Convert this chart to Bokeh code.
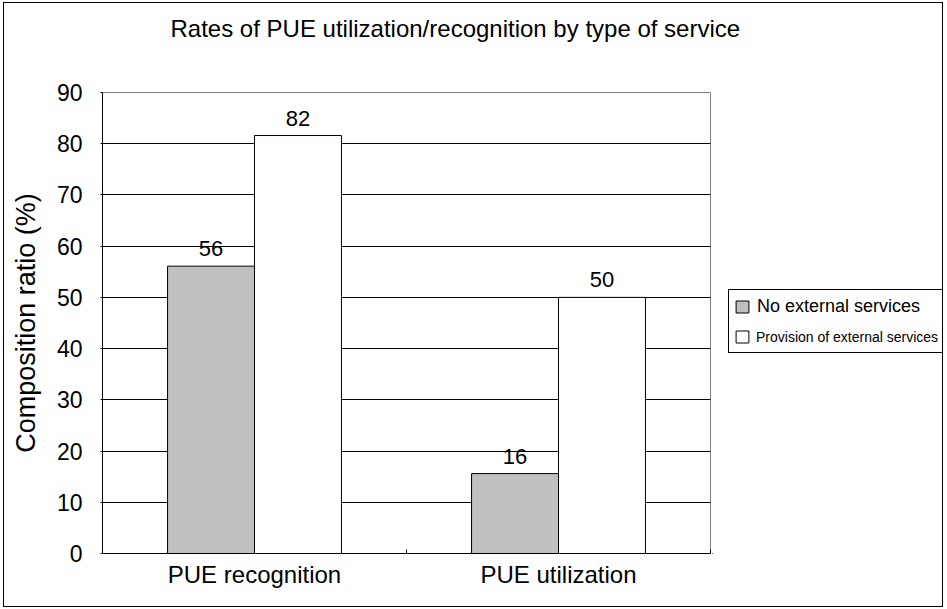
from bokeh.plotting import figure
from bokeh.layouts import column, row
from bokeh.models import (Range1d, FixedTicker, ColumnDataSource, LabelSet, Label,
                          Legend, LegendItem)
from bokeh.core.properties import value
from bokeh.embed import file_html
from bokeh.resources import INLINE

# ---------------- data ----------------
title_text = "Rates of PUE utilization/recognition by type of service"
categories = ["PUE recognition", "PUE utilization"]
series_names = ["No external services", "Provision of external services"]
no_external = [56.1, 15.6]
provision = [81.6, 50.0]
y_ticks = [0, 10, 20, 30, 40, 50, 60, 70, 80, 90]
y_label = "Composition ratio (%)"

FONT = "Liberation Sans"
GRAY = "#C0C0C0"
TOTAL_W, TOTAL_H = 940, 605
TITLE_H = 50
MAIN_W = 99 + 608 + 2
LEG_W = TOTAL_W - MAIN_W
BODY_H = TOTAL_H - TITLE_H

# ---------------- title strip ----------------
p_title = figure(width=TOTAL_W, height=TITLE_H, output_backend="svg", toolbar_location=None,
                 x_range=Range1d(0, 1), y_range=Range1d(0, 1),
                 x_axis_location=None, y_axis_location=None, min_border=0)
p_title.grid.visible = False
p_title.outline_line_color = None
p_title.background_fill_alpha = 0
p_title.border_fill_alpha = 0
p_title.add_layout(Label(x=167, y=24, x_units="screen", y_units="screen", text=title_text,
                         text_font=FONT, text_font_size="24px", text_color="black",
                         text_baseline="alphabetic", text_align="left"))

# ---------------- main chart ----------------
p = figure(frame_width=608, frame_height=461, output_backend="svg", toolbar_location=None,
           x_range=Range1d(0, len(categories)), y_range=Range1d(y_ticks[0], y_ticks[-1]),
           min_border_left=99, min_border_right=2, min_border_top=40, min_border_bottom=54)
p.background_fill_color = "white"
p.border_fill_alpha = 0
p.outline_line_color = "#808080"
p.outline_line_width = 1

bar_w = 0.286
centers = [i + 0.5 for i in range(len(categories))]
x_no = [c - bar_w / 2 for c in centers]
x_pr = [c + bar_w / 2 for c in centers]
src_no = ColumnDataSource(dict(x=x_no, top=no_external, label=[f"{v:.0f}" for v in no_external]))
src_pr = ColumnDataSource(dict(x=x_pr, top=provision, label=[f"{v:.0f}" for v in provision]))

p.vbar(x="x", top="top", bottom=0, width=bar_w, source=src_no,
       fill_color=GRAY, line_color="black", line_width=1)
p.vbar(x="x", top="top", bottom=0, width=bar_w, source=src_pr,
       fill_color="white", line_color="black", line_width=1)

for src in (src_no, src_pr):
    p.add_layout(LabelSet(x="x", y="top", text="label", source=src, y_offset=10,
                          text_align="center", text_baseline="alphabetic",
                          text_font=value(FONT), text_font_size="22px", text_color="black"))

p.yaxis.ticker = FixedTicker(ticks=y_ticks)
p.yaxis.major_label_text_font = FONT
p.yaxis.major_label_text_font_size = "23px"
p.yaxis.major_label_text_color = "black"
p.yaxis.major_label_standoff = 18
p.yaxis.major_tick_out = 2
p.yaxis.major_tick_in = 0
p.yaxis.minor_tick_out = 0
p.yaxis.minor_tick_in = 0
p.yaxis.axis_line_color = "black"
p.yaxis.major_tick_line_color = "black"
p.yaxis.axis_label = y_label
p.yaxis.axis_label_text_font = FONT
p.yaxis.axis_label_text_font_size = "27px"
p.yaxis.axis_label_text_font_style = "normal"
p.yaxis.axis_label_text_color = "black"
p.yaxis.axis_label_standoff = 13

p.xaxis.ticker = FixedTicker(ticks=centers, minor_ticks=list(range(len(categories) + 1)))
p.xaxis.major_label_overrides = {c: cat for c, cat in zip(centers, categories)}
p.xaxis.major_label_text_font = FONT
p.xaxis.major_label_text_font_size = "24px"
p.xaxis.major_label_text_color = "black"
p.xaxis.major_label_standoff = 7
p.xaxis.major_tick_in = 0
p.xaxis.major_tick_out = 0
p.xaxis.minor_tick_in = 4
p.xaxis.minor_tick_out = 0
p.xaxis.minor_tick_line_color = "black"
p.xaxis.axis_line_color = "black"

p.xgrid.visible = False
p.ygrid.ticker = FixedTicker(ticks=y_ticks[1:-1])
p.ygrid.grid_line_color = "black"
p.ygrid.grid_line_width = 1

# ---------------- legend panel ----------------
# Its ranges lie far away from the data, so its renderers only serve as legend keys.
p_leg = figure(width=LEG_W, height=BODY_H, output_backend="svg", toolbar_location=None,
               x_range=Range1d(1000, 1001), y_range=Range1d(1000, 1001),
               x_axis_location=None, y_axis_location=None, min_border=0)
p_leg.grid.visible = False
p_leg.outline_line_color = None
p_leg.background_fill_alpha = 0
p_leg.border_fill_alpha = 0

k_gray = p_leg.vbar(x="x", top="top", bottom=0, width=bar_w, source=src_no,
                    fill_color=GRAY, line_color="black", line_width=1)
k_white = p_leg.vbar(x="x", top="top", bottom=0, width=bar_w, source=src_pr,
                     fill_color="white", line_color="black", line_width=1)
k_blank = p_leg.vbar(x="x", top="top", bottom=0, width=bar_w, source=src_pr,
                     fill_alpha=0, line_alpha=0)

leg_box = Legend(items=[LegendItem(label=value(series_names[0]), renderers=[k_gray]),
                        LegendItem(label=value(""), renderers=[k_white])],
                 location=(16, 200), orientation="vertical", margin=0, padding=5,
                 spacing=8, glyph_width=16, glyph_height=15, label_height=22,
                 label_width=180, label_standoff=7,
                 border_line_color="black", border_line_width=1, border_line_alpha=1,
                 background_fill_color="white", background_fill_alpha=1,
                 label_text_font=FONT, label_text_font_size="18px",
                 label_text_color="black", label_text_baseline="middle")
p_leg.add_layout(leg_box)

leg_second = Legend(items=[LegendItem(label=value(series_names[1]), renderers=[k_blank])],
                    location=(21, 205), orientation="vertical", margin=0, padding=0,
                    spacing=0, glyph_width=16, glyph_height=15, label_height=22,
                    label_standoff=7, border_line_alpha=0, background_fill_alpha=0,
                    label_text_font=FONT, label_text_font_size="14px",
                    label_text_color="black", label_text_baseline="middle")
p_leg.add_layout(leg_second)

layout = column(p_title, row(p, p_leg, spacing=0), spacing=0, margin=(2, 0, 0, 3),
                styles={"outline": "1px solid #000000", "outline-offset": "-1px"})

open("out.html", "w").write(file_html(layout, INLINE))
